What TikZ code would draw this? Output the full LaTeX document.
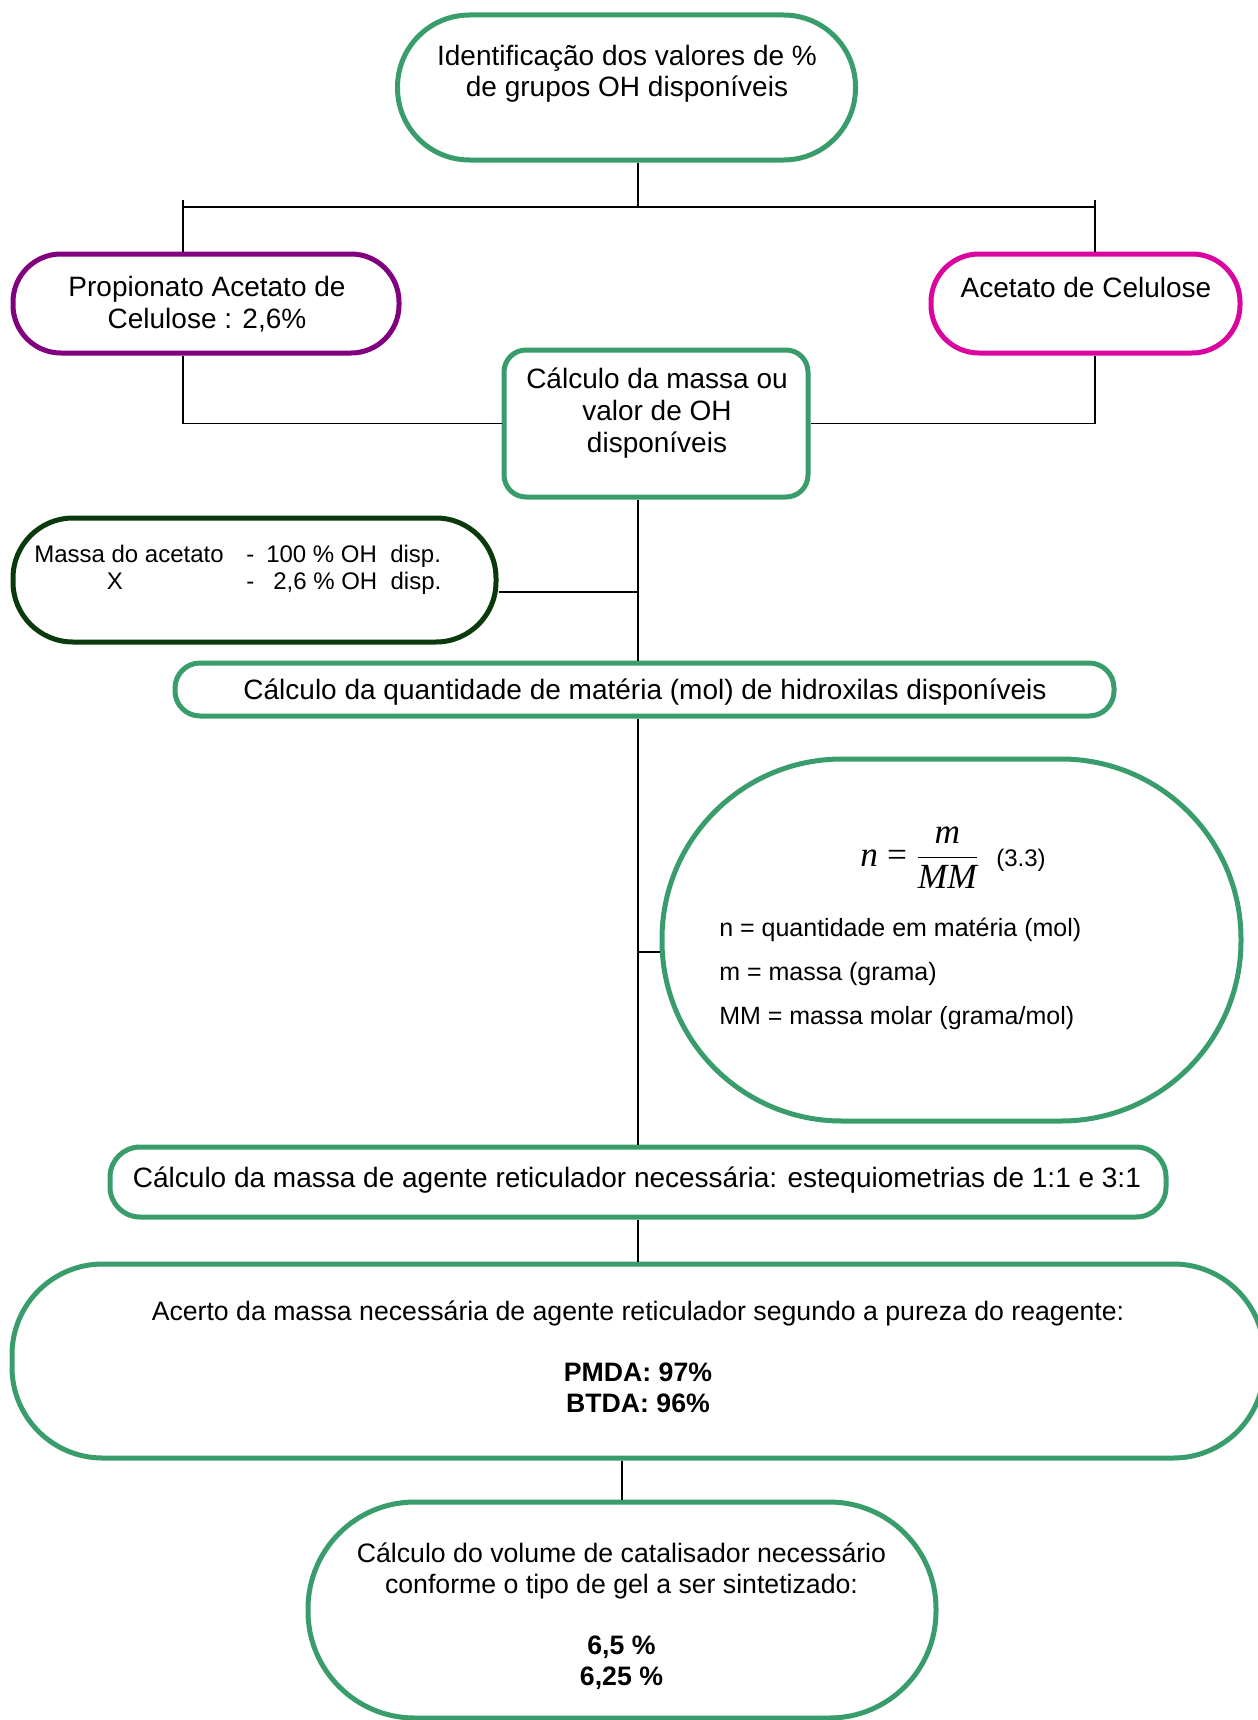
\documentclass[tikz,border=0pt]{standalone}
\usepackage{fontspec}
\setmainfont{Liberation Sans}
\newfontfamily\tms{Liberation Serif}
\definecolor{gbox}{HTML}{389C6B}
\definecolor{pbox}{HTML}{800080}
\definecolor{mbox}{HTML}{DA049E}
\definecolor{dbox}{HTML}{0A3A0C}
\newcommand\ml[1]{\begin{tabular}[t]{@{}c@{}}#1\end{tabular}}
\newcommand\mll[1]{\begin{tabular}[t]{@{}l@{}}#1\end{tabular}}
\tikzset{
  boxshape/.style={draw=#1, line width=3.75pt, inner sep=0pt, fill=white},
  conn/.style={line width=1.2pt, black},
  connh/.style={line width=2pt, black},
  txt/.style={anchor=base, inner sep=0pt, font=\fontsize{21}{24}\selectfont},
  txtm/.style={anchor=base, inner sep=0pt, font=\fontsize{20}{23}\selectfont},
  txts/.style={anchor=base west, inner sep=0pt, font=\fontsize{18}{20}\selectfont},
}
\begin{document}
\begin{tikzpicture}[x=0.75pt, y=-0.75pt]
\useasboundingbox (0,0) rectangle (1257,1720);

% boxes
\node[boxshape=gbox, rounded corners=54pt, minimum width=343.5pt, minimum height=108.75pt] (b1) at (626.5,87.5) {};
\node[boxshape=pbox, rounded corners=36pt, minimum width=289.5pt, minimum height=74.25pt] (b2) at (206,303.5) {};
\node[boxshape=mbox, rounded corners=36pt, minimum width=231.75pt, minimum height=74.25pt] (b4) at (1085.5,303.5) {};
\node[boxshape=gbox, rounded corners=16.5pt, minimum width=228pt, minimum height=110.25pt] (b5) at (656,423.5) {};
\node[boxshape=dbox, rounded corners=45pt, minimum width=362.25pt, minimum height=93pt] (b7) at (254.5,580) {};
\node[boxshape=gbox, rounded corners=18.75pt, minimum width=704.25pt, minimum height=39.75pt] (b8) at (644.5,689.5) {};
\node[boxshape=gbox, rounded corners=135pt, minimum width=434.25pt, minimum height=271.5pt] (b10) at (951.5,940) {};
\node[boxshape=gbox, rounded corners=22.5pt, minimum width=792pt, minimum height=52.5pt] (b11) at (638,1182) {};
\node[boxshape=gbox, rounded corners=68pt, minimum width=939pt, minimum height=145.5pt] (b13) at (638,1361) {};
\node[boxshape=gbox, rounded corners=80pt, minimum width=471pt, minimum height=162pt] (b15) at (622,1610) {};

% texts
\node[txt] (t1) at (627,65) {\ml{Identificação dos valores de \%\\de grupos OH disponíveis}};
\node[txt] (t2) at (207,296.7) {\ml{Propionato Acetato de\\Celulose : 2,6\%}};
\node[txt] (t4) at (1086,297) {Acetato de Celulose};
\node[txt] (t5) at (657,388) {\ml{Cálculo da massa ou\\valor de OH\\disponíveis}};
\node[txts] (t7a) at (34,562.7) {Massa do acetato};
\node[txts] (t7b) at (246,562.7) {-};
\node[txts] (t7c) at (266,562.7) {100 \% OH\ \ disp.};
\node[txt, font=\fontsize{18}{20}\selectfont] (t7d) at (115,589.2) {X};
\node[txts] (t7e) at (246,589.2) {-};
\node[txts] (t7f) at (273,589.2) {2,6 \% OH\ \ disp.};
\node[txt] (t8) at (645,699) {Cálculo da quantidade de matéria (mol) de hidroxilas disponíveis};
\node[anchor=base west, inner sep=0pt, font=\fontsize{26.5}{30}\selectfont] (eq) at (860,866)
  {$\displaystyle \mbox{\tms\itshape n}\mathrel{\mbox{\tms =}}\frac{\mbox{\tms\itshape m}}{\mbox{\tms\itshape MM}}$};
\node[txts] (eqn) at (996,866) {(3.3)};
\node[anchor=base west, inner sep=0pt, font=\fontsize{18.75}{33}\selectfont] (t10) at (719,936.7)
  {\mll{n = quantidade em matéria (mol)\\m = massa (grama)\\MM = massa molar (grama/mol)}};
\node[txt] (t11) at (637,1187.7) {Cálculo da massa de agente reticulador necessária: estequiometrias de 1:1 e 3:1};
\node[txtm] (t13) at (638,1320) {\ml{Acerto da massa necessária de agente reticulador segundo a pureza do reagente:\\[23pt]\bfseries PMDA: 97\%\\\bfseries BTDA: 96\%}};
\node[txtm] (t15) at (621.5,1562.7) {\ml{Cálculo do volume de catalisador necessário\\conforme o tipo de gel a ser sintetizado:\\[23pt]\bfseries 6,5 \%\\\bfseries 6,25 \%}};

% connectors
\coordinate (s) at (638,0);
\coordinate (j1) at (638,207);
\coordinate (hl) at (183,207);
\coordinate (hr) at (1095,207);
\coordinate (tl) at (183,200);
\coordinate (tr) at (1095,200);
\draw[conn] (b1.south -| j1) -- (j1);
\draw[connh] (hl) -- (hr);
\draw[conn] (tl) -- (tl |- b2.north);
\draw[conn] (tr) -- (tr |- b4.north);
\draw[conn] (b2.south -| tl) |- (b5.west);
\draw[conn] (b4.south -| tr) |- (b5.east);
\draw[conn] (b5.south -| s) -- (b8.north -| s);
\draw[conn] ([yshift=-9pt]b7.east) -- ([yshift=-9pt]b7.east -| s);
\draw[conn] (b8.south -| s) -- (b11.north -| s);
\draw[conn] ([yshift=-9pt]b10.west) -- ([yshift=-9pt]b10.west -| s);
\draw[conn] (b11.south -| s) -- (b13.north -| s);
\draw[conn] (b13.south -| b15.north) -- (b15.north);
\end{tikzpicture}
\end{document}
